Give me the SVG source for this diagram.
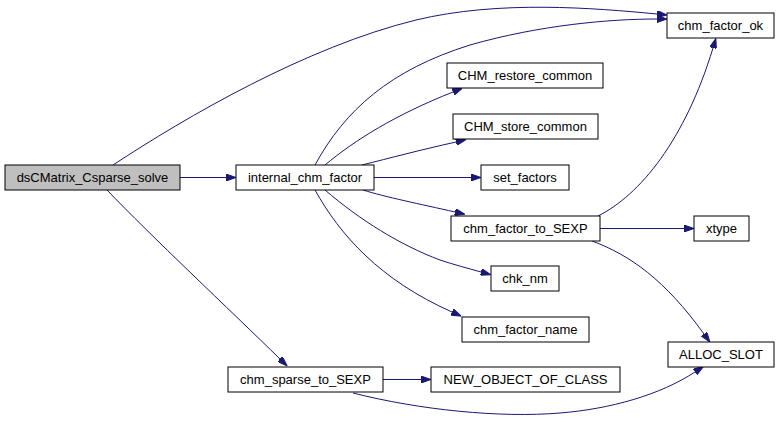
<svg xmlns="http://www.w3.org/2000/svg" width="781" height="421" viewBox="0 0 781 421">
<style>
.n rect{fill:#fff;stroke:#000;stroke-width:1}
.n text{font-family:"Liberation Sans",Arial,sans-serif;font-size:13px;text-anchor:middle;fill:#000}
.e path{fill:none;stroke:#191970;stroke-width:1;marker-end:url(#ah)}
</style>
<defs>
<marker id="ah" viewBox="0 0 10 7" refX="0" refY="3.5" markerWidth="10" markerHeight="7" markerUnits="userSpaceOnUse" orient="auto">
<path d="M0,0 L10,3.5 L0,7 z" fill="#191970" stroke="#191970"/>
</marker>
</defs>
<rect width="781" height="421" fill="#fff"/>
<g id="edges" class="e">
<path d="M113,165 C186,117 306,47 416,20 C499,0 594,8 657,14"/>
<path d="M180,177.5 L226,177.5"/>
<path d="M107,190 C150,235 230,310 280,359"/>
<path d="M315,165 C345,110 390,70 470,45 C540,25 610,19 657,19"/>
<path d="M325,165 C355,140 395,115 453,92"/>
<path d="M362,165 C390,158 420,150 456,142"/>
<path d="M374,177.5 L471,177.5"/>
<path d="M363,190 C385,197 420,204 455,212"/>
<path d="M325,190 C360,220 400,245 440,260 C455,265 467,268 481,272"/>
<path d="M315,190 C340,235 380,280 452,312"/>
<path d="M598,216 C640,195 685,140 713,48"/>
<path d="M600,228.5 L684,228.5"/>
<path d="M592,241 C630,255 665,280 704,334"/>
<path d="M383,379.5 L421,379.5"/>
<path d="M353,393 C420,410 500,418 560,413 C610,409 660,395 695,372"/>
</g>
<g id="node_dsCMatrix_Csparse_solve" class="n"><rect x="5" y="165" width="175" height="25" style="fill:#bfbfbf"/><text x="92.5" y="182">dsCMatrix_Csparse_solve</text></g>
<g id="node_internal_chm_factor" class="n"><rect x="236" y="165" width="138" height="25"/><text x="305" y="182">internal_chm_factor</text></g>
<g id="node_chm_factor_ok" class="n"><rect x="667" y="13" width="107" height="25"/><text x="720.5" y="30">chm_factor_ok</text></g>
<g id="node_CHM_restore_common" class="n"><rect x="447" y="63" width="156" height="25"/><text x="525" y="80">CHM_restore_common</text></g>
<g id="node_CHM_store_common" class="n"><rect x="453" y="114" width="145" height="25"/><text x="525.5" y="131">CHM_store_common</text></g>
<g id="node_set_factors" class="n"><rect x="481" y="165" width="88" height="25"/><text x="525" y="182">set_factors</text></g>
<g id="node_chm_factor_to_SEXP" class="n"><rect x="451" y="216" width="149" height="25"/><text x="525.5" y="233">chm_factor_to_SEXP</text></g>
<g id="node_xtype" class="n"><rect x="694" y="216" width="55" height="25"/><text x="721.5" y="233">xtype</text></g>
<g id="node_chk_nm" class="n"><rect x="491" y="266" width="68" height="25"/><text x="525" y="283">chk_nm</text></g>
<g id="node_chm_factor_name" class="n"><rect x="462" y="317" width="127" height="25"/><text x="525.5" y="334">chm_factor_name</text></g>
<g id="node_ALLOC_SLOT" class="n"><rect x="668" y="342" width="106" height="25"/><text x="721" y="359">ALLOC_SLOT</text></g>
<g id="node_chm_sparse_to_SEXP" class="n"><rect x="228" y="367" width="155" height="25"/><text x="305.5" y="384">chm_sparse_to_SEXP</text></g>
<g id="node_NEW_OBJECT_OF_CLASS" class="n"><rect x="431" y="367" width="189" height="25"/><text x="525.5" y="384">NEW_OBJECT_OF_CLASS</text></g>
</svg>
